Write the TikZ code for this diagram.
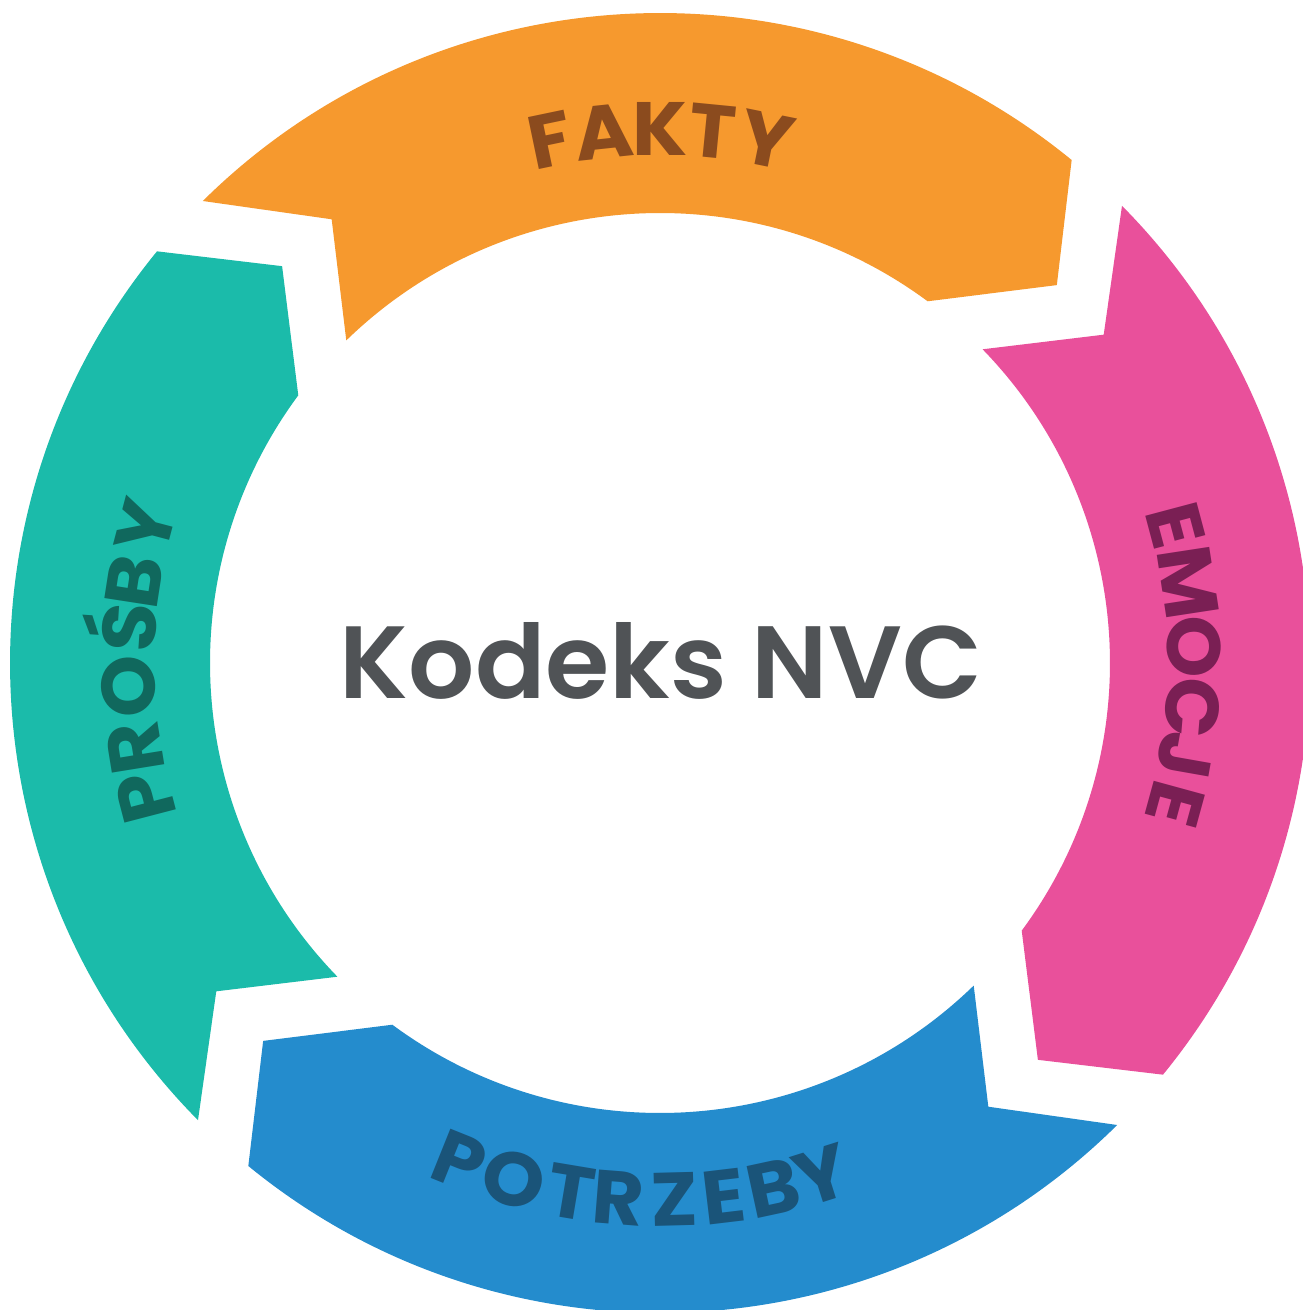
\documentclass[tikz,border=0pt]{standalone}
\usepackage{fontspec}
\setmainfont{Poppins}
\newfontfamily\titlefont{Poppins}[UprightFont=* SemiBold]
\usepackage{graphicx}
\definecolor{cOrange}{HTML}{F6992E}
\definecolor{cPink}{HTML}{E9509B}
\definecolor{cBlue}{HTML}{248CCD}
\definecolor{cTeal}{HTML}{1BBBAA}
\definecolor{tOrange}{HTML}{8B4B1E}
\definecolor{tPink}{HTML}{7A1F54}
\definecolor{tBlue}{HTML}{1A5479}
\definecolor{tTeal}{HTML}{10685D}
\definecolor{tCenter}{HTML}{505356}
\tikzset{
  letter/.style={inner sep=0pt, outer sep=0pt, text height=0.53cm, text depth=0pt,
    font=\fontsize{21.5pt}{21.5pt}\selectfont\bfseries},
}
\newcommand\wideletter[1]{\scalebox{1.05}[1]{#1}}
\begin{document}
\begin{tikzpicture}
\useasboundingbox (-6.60,-6.47) rectangle (6.43,6.63);
\clip (-6.60,-6.47) rectangle (6.43,6.63);
\fill[white] (-6.60,-6.47) rectangle (6.43,6.63);
% ring segments (4-fold symmetric)
\foreach \rot/\col in {0/cOrange, -90/cPink, -180/cBlue, -270/cTeal}{
  \begin{scope}[rotate=\rot]
    \fill[\col] (134.7:6.5cm) -- (126.5:5.52cm) -- (134.2:4.5cm)
      arc[start angle=134.2, end angle=53.5, radius=4.5cm]
      -- (43.6:5.48cm) -- (50.7:6.5cm)
      arc[start angle=50.7, end angle=134.7, radius=6.5cm] -- cycle;
  \end{scope}
}
% labels
\foreach \l/\a [count=\i] in {F/101.8, A/96.1, K/90, T/84.4, Y/78.5}
  \node[letter, text=tOrange, rotate=\a-90] (fakty\i) at (\a:5.34cm) {\wideletter{\l}};
\foreach \l/\a [count=\i] in {E/14.9, M/8.7, O/1.7, C/-4.8, J/-10, E/-15.3}
  \node[letter, text=tPink, rotate=\a-90] (emocje\i) at (\a:5.34cm) {\wideletter{\l}};
\foreach \l/\a [count=\i] in {P/-111.9, O/-105.8, T/-99.5, R/-94.5, Z/-88.5, E/-83.2, B/-77.8, Y/-72.5}
  \node[letter, text=tBlue, rotate=\a+90] (potrzeby\i) at (\a:5.37cm) {\wideletter{\l}};
\foreach \l/\a [count=\i] in {P/194.6, R/189.2, O/182.5, {Ś}/176.2, B/171.2, Y/165.2}
  \node[letter, text=tTeal, rotate=\a-90] (prosby\i) at (\a:5.32cm) {\wideletter{\l}};
% centre title
\node[inner sep=0pt, anchor=base, text=tCenter] (title) at (0.01,-0.35)
  {\resizebox{6.42cm}{0.76cm}{\titlefont Kodeks NVC}};
\end{tikzpicture}
\end{document}
